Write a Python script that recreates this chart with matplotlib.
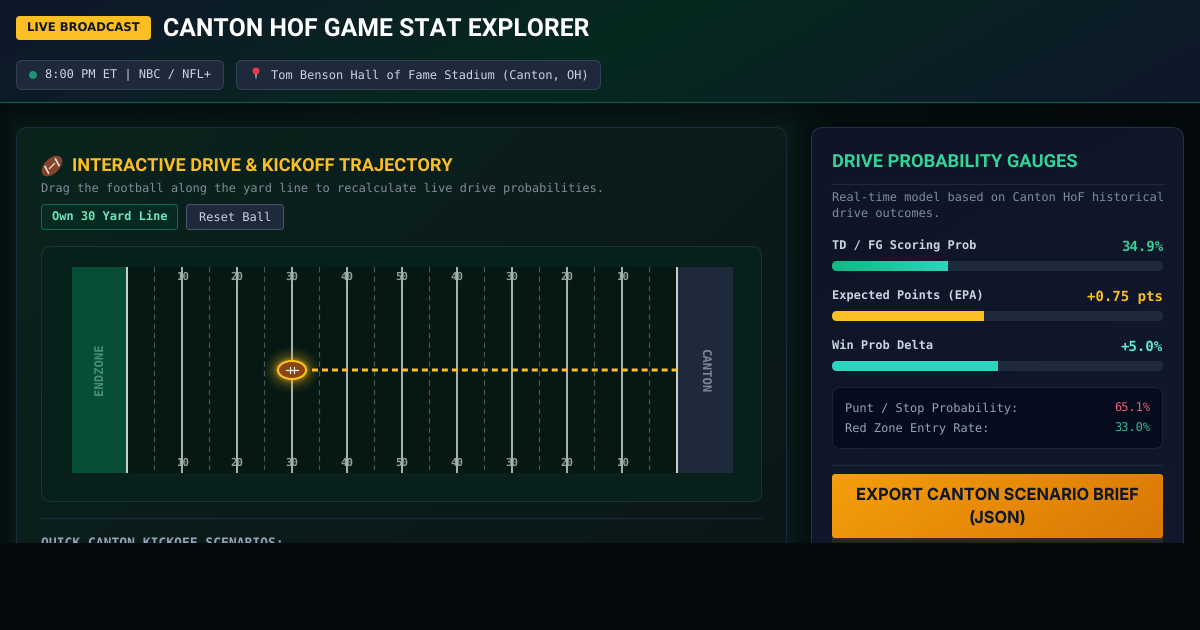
"""
Canton HoF game stat explorer dashboard, redrawn with matplotlib.
"""

import matplotlib
matplotlib.use('Agg')
import matplotlib.pyplot as plt
from matplotlib.colors import to_rgb
from matplotlib.patches import Circle, Ellipse, FancyBboxPatch, Polygon, Rectangle
import numpy as np

# Field data (yards from the left goal line)
solid_yards = [10, 20, 30, 40, 50, 60, 70, 80, 90]
yard_numbers = ["10", "20", "30", "40", "50", "40", "30", "20", "10"]
dashed_yards = [5, 15, 25, 35, 45, 55, 65, 75, 85, 95]
goal_yards = [0, 100]
ball_yard = 30

# Gauges
gauge_labels = ["TD / FG Scoring Prob", "Expected Points (EPA)", "Win Prob Delta"]
gauge_texts = ["34.9%", "+0.75 pts", "+5.0%"]
gauge_fill = [34.9, 46.0, 50.0]
gauge_text_colors = ["#34d399", "#fbbf24", "#5eead4"]

stat_labels = ["Punt / Stop Probability:", "Red Zone Entry Rate:"]
stat_values = ["65.1%", "33.0%"]
stat_colors = ["#ee6079", "#2fbf8f"]

HEAD = ["Roboto", "DejaVu Sans"]
WIDE = ["DejaVu Sans"]
BTN = ["Inter", "DejaVu Sans"]
MONO = ["DejaVu Sans Mono"]
W, H = 1200, 630
CUT_Y = 543

plt.rcParams['text.hinting'] = 'none'  # keeps text widths close to linear with the font size
plt.rcParams['text.hinting_factor'] = 8

fig = plt.figure(figsize=(W / 100, H / 100), dpi=100)
ax = fig.add_axes([0, 0, 1, 1])
ax.set_xlim(0, W)
ax.set_ylim(H, 0)
ax.axis("off")


def px_axes(x0, y0, x1, y1, xlim, ylim, zorder=5):
    """Inset axes placed in pixel coordinates of the page."""
    sub = fig.add_axes([x0 / W, 1 - y1 / H, (x1 - x0) / W, (y1 - y0) / H], zorder=zorder)
    sub.set_xlim(*xlim)
    sub.set_ylim(*ylim)
    sub.axis("off")
    return sub


def box(x0, y0, x1, y1, r, face, edge="none", lw=1.0, z=2):
    patch = FancyBboxPatch((x0, y0), x1 - x0, y1 - y0, boxstyle=f"round,pad=0,rounding_size={r}",
                           facecolor=face, edgecolor=edge, linewidth=lw * 0.72, zorder=z)
    ax.add_patch(patch)
    return patch


def gradient(x0, y0, x1, y1, stops, angle=0.0, clip=None, z=2, target=None):
    """Linear gradient between colour stops; angle 0 runs left to right."""
    target = target or ax
    nx, ny = 400, 100
    xx, yy = np.meshgrid(np.linspace(0, 1, nx), np.linspace(0, 1, ny))
    t = xx * np.cos(angle) + yy * np.sin(angle)
    t = (t - t.min()) / (t.max() - t.min())
    pos = np.linspace(0, 1, len(stops))
    rgb = np.array([to_rgb(c) for c in stops])
    img = np.dstack([np.interp(t, pos, rgb[:, i]) for i in range(3)])
    im = target.imshow(img, extent=(x0, x1, y1, y0), aspect="auto", zorder=z, interpolation="bilinear")
    target.set_xlim(target.get_xlim())
    if clip is not None:
        im.set_clip_path(clip)
    return im


def label(x, y, s, size, color, family=MONO, weight="normal", ha="left", z=10, **kw):
    return ax.text(x, y, s, fontsize=size * 0.72, color=color, family=family, fontweight=weight,
                   ha=ha, va="center", zorder=z, **kw)


# Page background: dark with a green tint and a glow round the left panel
yy, xx = np.mgrid[0:H, 0:W]
base = np.array(to_rgb("#04090c"))
glow = np.array(to_rgb("#0a3a2c"))
dx = np.maximum(np.maximum(16 - xx, xx - 787), 0)
dy = np.maximum(np.maximum(127 - yy, yy - 700), 0)
dist = np.hypot(dx, dy)
amount = 0.30 * np.exp(-dist / 16.0)
tint = 0.10 * np.exp(-((xx - 560) / 520.0) ** 2)
mix = np.clip(amount + tint, 0, 1)[..., None]
ax.imshow(base * (1 - mix) + glow * mix, extent=(0, W, H, 0), aspect="auto", zorder=0)
ax.set_xlim(0, W)
ax.set_ylim(H, 0)

# Header
gradient(0, 0, W, 102, ["#0f172a", "#06291f", "#0f172a"], angle=0.15, z=1)
ax.plot([0, W], [102.2, 102.2], color="#0d5a48", lw=0.9, zorder=2)
box(16, 16, 151, 40, 4, "#fbbf24", z=3)
label(83.5, 29, "LIVE BROADCAST", 11.6, "#0f172a", family=WIDE, weight="bold", ha="center")
label(163, 28.5, "CANTON HOF GAME STAT EXPLORER", 24.75, "#ffffff", family=HEAD, weight="bold")

box(16.5, 60.5, 223.5, 89.5, 6, "#1e293b", "#334155", z=3)
ax.add_patch(Circle((33, 75), 4, facecolor="#1f9274", edgecolor="none", zorder=4))
label(45, 74.7, "8:00 PM ET | NBC / NFL+", 11.96, "#cbd5e1")
box(236.5, 60.5, 600.5, 89.5, 6, "#1e293b", "#334155", z=3)
ax.add_patch(Polygon([(254.5, 72), (257.5, 72), (256, 80)], facecolor="#aab2bb", edgecolor="none", zorder=4))
ax.add_patch(Circle((256, 71), 3.6, facecolor="#e0374a", edgecolor="none", zorder=5))
label(271, 74.7, "Tom Benson Hall of Fame Stadium (Canton, OH)", 11.96, "#cbd5e1")

# Left panel
left = box(16.5, 127.5, 786.5, 640, 12, "none", "#1e293b", z=4)
left_fill = box(16.5, 127.5, 786.5, 640, 12, "#0b1c19", z=2)
gradient(16, 127, 787, 640, ["#0b231d", "#0a1618"], angle=0.6, clip=left_fill, z=3)

# football icon beside the panel title
ax.add_patch(Ellipse((52, 166), 25, 15, angle=-45, facecolor="#84432a", edgecolor="none", zorder=5))
ax.plot([45, 48.5], [166.5, 173], color="#e9e2dc", lw=1.2, zorder=6)
ax.plot([55.5, 59], [159, 165.5], color="#e9e2dc", lw=1.2, zorder=6)
ax.plot([49.5, 54.5], [168.5, 163.5], color="#e9e2dc", lw=0.9, zorder=6)
label(72, 167, "INTERACTIVE DRIVE & KICKOFF TRAJECTORY", 18.2, "#fbbf24", family=HEAD, weight="bold")
label(41, 187.7, "Drag the football along the yard line to recalculate live drive probabilities.", 11.96, "#7f8c9b")

box(41.5, 204.5, 177.5, 229.5, 3, "#062a22", "#0d6a50", z=5)
label(109.5, 217, "Own 30 Yard Line", 11.96, "#6ee7b7", weight="bold", ha="center")
box(186.5, 204.5, 283.5, 229.5, 3, "#1e293b", "#475569", z=5)
label(235, 217, "Reset Ball", 11.96, "#cbd5e1", ha="center")

box(41.5, 246.5, 761.5, 501.5, 10, "#08201b", "#173630", z=5)
ax.plot([41, 762], [518.2, 518.2], color="#1e293b", lw=0.9, zorder=5)
label(41, 543.7, "QUICK CANTON KICKOFF SCENARIOS:", 12.97, "#94a3b8", weight="bold", z=6)

# Field, scaled in yards across and percent of the field width down
px_per_yard = 5.5
field = px_axes(72, 267, 733, 473, (-10, 110.18), (100, 0))
field.add_patch(Rectangle((0, 0), 100, 100, facecolor="#061813", edgecolor="none", zorder=1))
field.add_patch(Rectangle((-10, 0), 10, 100, facecolor="#064e36", edgecolor="none", zorder=1))
field.add_patch(Rectangle((100, 0), 10.18, 100, facecolor="#1e293b", edgecolor="none", zorder=1))

dashes = field.vlines(dashed_yards, 0, 98.5, color="#425a54", lw=0.85, linestyles=(0, (4.5, 3.5)), zorder=2)
dashes.set_snap(False)
for yard, number in zip(solid_yards, yard_numbers):
    for y_pct in (4.85, 95.15):
        field.text(yard, y_pct, number, fontsize=10.8 * 0.72, color="#909e99", family=MONO, fontweight="bold",
                   ha="center", va="center", zorder=2)
solid = field.vlines(solid_yards, 0, 100, color="#a6b0ac", lw=1.45, zorder=3)
solid.set_snap(False)
goals = field.vlines(goal_yards, 0, 100, color="#c6cecb", lw=1.45, zorder=3)
goals.set_snap(False)
field.text(-4.85, 49.5, "ENDZONE", fontsize=12.2 * 0.72, color="#4d8c78", family=MONO, fontweight="bold", rotation=90,
           ha="center", va="center", zorder=4)
field.text(104.75, 50, "CANTON", fontsize=12.2 * 0.72, color="#7c8797", family=MONO, fontweight="bold", rotation=270,
           ha="center", va="center", zorder=4)

# Projected drive from the ball to the far goal line
drive, = field.plot([ball_yard + 20 / px_per_yard, goal_yards[1]], [50, 50], color="#fbbf24", lw=2.16,
                    linestyle=(0, (2.0, 1.33)), dash_capstyle="butt", zorder=5)
drive.set_snap(False)

# Ball with a soft glow; sizes in pixels converted to the field scale
pct_per_px = 100 / 206
for extra, alpha in [(28, 0.02), (24, 0.03), (20, 0.04), (16, 0.05), (12, 0.07), (8, 0.1), (5, 0.14), (2, 0.2)]:
    field.add_patch(Ellipse((ball_yard, 50), (30 + extra) / px_per_yard, (20 + extra) * pct_per_px,
                            facecolor="#fbbf24", edgecolor="none", alpha=alpha, zorder=6))
field.add_patch(Ellipse((ball_yard, 50), 28 / px_per_yard, 18 * pct_per_px, facecolor="#8b4513",
                        edgecolor="#fbbf24", linewidth=1.5, zorder=7))
field.plot([ball_yard - 6 / px_per_yard, ball_yard + 6 / px_per_yard], [50, 50], color="#f2ede8", lw=0.9, zorder=8)
for lace in (-2, 2):
    field.plot([ball_yard + lace / px_per_yard] * 2, [50 - 3 * pct_per_px, 50 + 3 * pct_per_px],
               color="#f2ede8", lw=0.8, zorder=8)

# Right panel
right_fill = box(811.5, 127.5, 1183.5, 640, 12, "#0f172a", z=2)
gradient(811, 127, 1184, 640, ["#0e1526", "#12192e"], angle=1.2, clip=right_fill, z=3)
box(811.5, 127.5, 1183.5, 640, 12, "none", "#263244", z=4)
label(832, 163, "DRIVE PROBABILITY GAUGES", 18.3, "#34d399", family=HEAD, weight="bold")
ax.plot([832, 1163], [184.2, 184.2], color="#1e293b", lw=0.9, zorder=5)
label(832, 197.3, "Real-time model based on Canton HoF historical", 11.96, "#7f8c9b")
label(832, 213.3, "drive outcomes.", 11.96, "#7f8c9b")

for i, name in enumerate(gauge_labels):
    top = 261 + i * 50
    label(832, top - 15.5, name, 11.96, "#cbd5e1", weight="bold")
    label(1163, top - 13.7, gauge_texts[i], 14, gauge_text_colors[i], weight="bold", ha="right")
    track = box(832, top, 1163, top + 10, 5, "#1e293b", z=5)
    bar_ax = px_axes(832, top, 1163, top + 10, (0, 100), (0, 1))
    if i == 0:
        gradient(0, 0, gauge_fill[i], 1, ["#10b981", "#2dd4bf"], clip=track, z=2, target=bar_ax)
        bar_ax.set_xlim(0, 100)
        bar_ax.set_ylim(0, 1)
    else:
        colors = [None, "#fbbf24", "#2dd4bf"]
        bars = bar_ax.barh([0.5], [gauge_fill[i]], height=1.0, color=colors[i], zorder=2)
        bars[0].set_clip_path(track)

box(832.5, 387.5, 1162.5, 448.5, 8, "#060b1e", "#1a2536", z=5)
for i, name in enumerate(stat_labels):
    label(845, 408 + i * 20, name, 11.96, "#94a3b8")
    label(1150, 408 + i * 20, stat_values[i], 11.96, stat_colors[i], ha="right")
ax.plot([832, 1163], [465.2, 465.2], color="#1e293b", lw=0.9, zorder=5)

# Export button with its shadow
gradient(832, 537, 1163, 543, ["#3a3630", "#1d1f29"], angle=np.pi / 2, z=5)
button = box(832, 474, 1163, 538, 4, "#f59e0b", z=6)
gradient(832, 474, 1163, 538, ["#f59e0b", "#d97706"], angle=0.25, clip=button, z=7)
label(997.5, 495, "EXPORT CANTON SCENARIO BRIEF", 16.4, "#0f172a", family=BTN, weight="bold", ha="center")
label(997.5, 519, "(JSON)", 16.4, "#0f172a", family=BTN, weight="bold", ha="center")

# The page is cut off here, everything below is plain background
ax.add_patch(Rectangle((0, CUT_Y), W, H - CUT_Y, facecolor="#040a0d", edgecolor="none", zorder=20))

fig.savefig("out.png", dpi=100)
plt.close(fig)
